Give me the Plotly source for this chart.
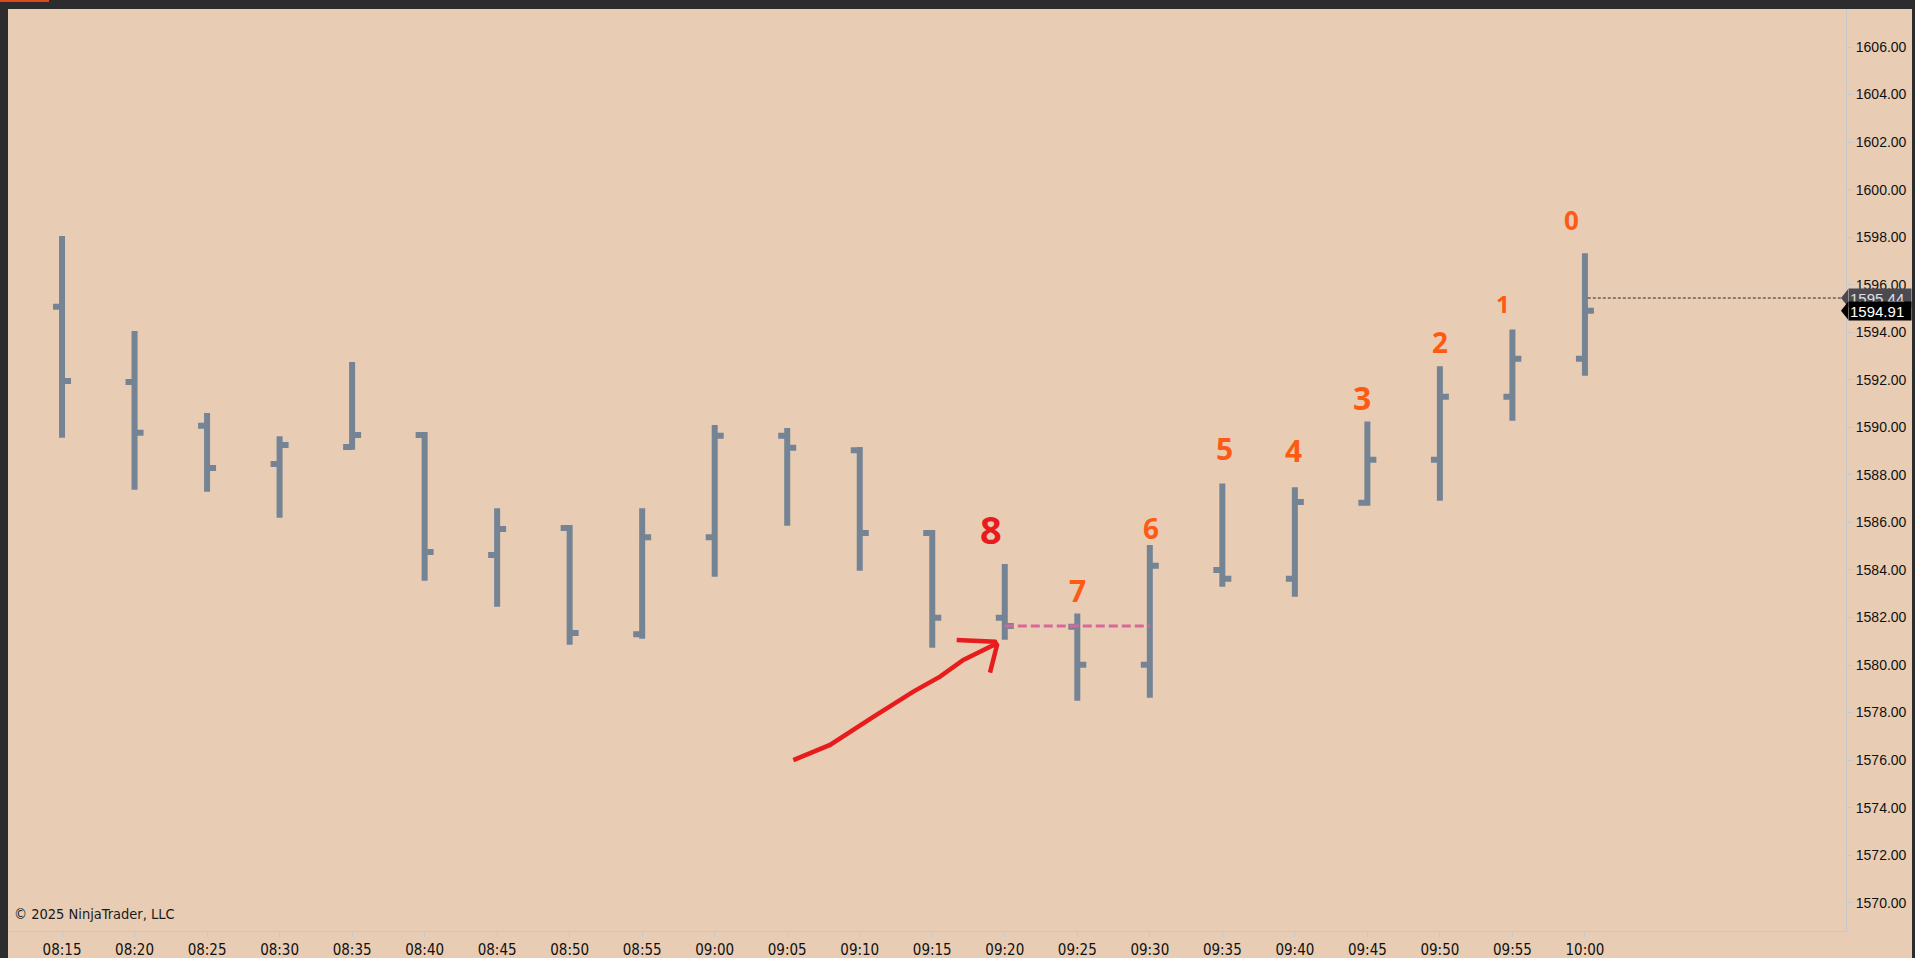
import plotly.graph_objects as go

# ---------------- data ----------------
times = ["08:15", "08:20", "08:25", "08:30", "08:35", "08:40", "08:45", "08:50",
         "08:55", "09:00", "09:05", "09:10", "09:15", "09:20", "09:25", "09:30",
         "09:35", "09:40", "09:45", "09:50", "09:55", "10:00"]
open_ = [1595.07, 1591.91, 1590.07, 1588.46, 1589.17, 1589.68, 1584.63, 1585.76,
         1581.30, 1585.38, 1589.65, 1589.04, 1585.55, 1581.99, 1581.61, 1580.01,
         1584.00, 1583.63, 1586.83, 1588.64, 1591.29, 1592.89]
high = [1598.05, 1594.05, 1590.60, 1589.63, 1592.75, 1589.80, 1586.60, 1585.89,
        1586.60, 1590.10, 1589.97, 1589.17, 1585.68, 1584.25, 1582.17, 1585.05,
        1587.64, 1587.48, 1590.25, 1592.57, 1594.12, 1597.32]
low = [1589.56, 1587.37, 1587.29, 1586.20, 1589.06, 1583.55, 1582.45, 1580.85,
       1581.11, 1583.71, 1585.86, 1583.97, 1580.73, 1581.06, 1578.50, 1578.62,
       1583.29, 1582.87, 1586.70, 1586.91, 1590.28, 1592.17]
close = [1591.95, 1589.77, 1588.29, 1589.26, 1589.68, 1584.75, 1585.72, 1581.35,
         1585.38, 1589.65, 1589.14, 1585.55, 1581.99, 1581.64, 1580.01, 1584.18,
         1583.63, 1586.86, 1588.64, 1591.29, 1592.89, 1594.91]

y_ticks = [1570, 1572, 1574, 1576, 1578, 1580, 1582, 1584, 1586, 1588, 1590,
           1592, 1594, 1596, 1598, 1600, 1602, 1604, 1606]

ask_price = 1595.44
last_price = close[-1]
ref_level = close[13]          # 09:20 close, pink dashed level

digit_labels = ["8", "7", "6", "5", "4", "3", "2", "1", "0"]
digit_bars = ["09:20", "09:25", "09:30", "09:35", "09:40", "09:45", "09:50", "09:55", "10:00"]

copyright_text = "\u00a9 2025 NinjaTrader, LLC"

# ---------------- style / layout ----------------
W, H = 1915, 958
ML, MR, MT, MB = 8, 69, 9, 27
PW, PH = W - ML - MR, H - MT - MB
BG = "#e8cdb4"
BAR = "#748494"
AXIS = "#c8c8cc"
ORANGE = "#ff5a14"
RED = "#e81c1c"
NARROW = "Liberation Sans Narrow, Arial Narrow, DejaVu Sans Condensed, sans-serif"
ARIAL = "Liberation Sans, Arial, sans-serif"

x_range = [-0.745, 24.6]
y_range = [1568.81, 1607.6]

fig = go.Figure()
fig.add_trace(go.Ohlc(
    x=times, open=open_, high=high, low=low, close=close,
    increasing=dict(line=dict(color=BAR, width=6)),
    decreasing=dict(line=dict(color=BAR, width=6)),
    tickwidth=0.124, hoverinfo="skip", showlegend=False,
))

shapes = []
annotations = []

# pink dashed level line from 09:20 bar to 09:30 bar
shapes.append(dict(type="line", xref="x", yref="y", x0=13.0, x1=15.0,
                   y0=ref_level, y1=ref_level,
                   line=dict(color="#d8689a", width=3, dash="9px,4px"), layer="above"))

# black dashed ask line from last bar to price axis
shapes.append(dict(type="line", xref="x", yref="y", x0=21.04, x1=24.53,
                   y0=ask_price, y1=ask_price,
                   line=dict(color="#2a2a2a", width=1, dash="3px,2px"), layer="above"))

# red hand-drawn arrow
arrow_path = ("M 10.084,1576.00 L 10.59,1576.64 L 11.187,1577.82 L 11.739,1578.88 "
              "L 12.107,1579.51 L 12.428,1580.21 L 12.889,1580.91 "
              "M 12.337,1581.05 L 12.865,1580.98 L 12.893,1580.84 L 12.796,1579.68")
shapes.append(dict(type="path", xref="x", yref="y", path=arrow_path,
                   line=dict(color=RED, width=4.5), layer="above"))

# hand-written digits above bars
digit_offsets = [(35, -14), (23, 0), (17, 1), (35, 2), (37, -1), (24, -5), (24, 0), (26, -9), (33, -13)]
digit_sizes = [38, 30, 28, 30, 30, 32, 28, 24, 26]
for lab, bar, (dy, dx), sz in zip(digit_labels, digit_bars, digit_offsets, digit_sizes):
    i = times.index(bar)
    annotations.append(dict(x=bar, y=high[i], xref="x", yref="y", text=f"<b>{lab}</b>",
                            showarrow=False, yshift=dy, xshift=dx,
                            xanchor="center", yanchor="middle",
                            font=dict(family="Noto Sans, sans-serif", size=sz,
                                      color=RED if lab == "8" else ORANGE)))

# price markers on the axis
def px_to_paper_x(px):
    return (px - ML) / PW

half = 0.37
for price, col, tcol in [(ask_price, "#4a4a52", "#e0e0e0"), (last_price, "#000000", "#ffffff")]:
    tip = px_to_paper_x(1841)
    body = px_to_paper_x(1848)
    shapes.append(dict(type="path", xref="paper", yref="y",
                       path=f"M {tip},{price} L {body},{price + half} L {body},{price - half} Z",
                       fillcolor=col, line=dict(width=0), layer="above"))
    annotations.append(dict(x=body, y=price, xref="paper", yref="y", text=f"{price:.2f}",
                            showarrow=False, xanchor="left", yanchor="middle",
                            bgcolor=col, width=60, height=16, align="left", borderpad=1,
                            font=dict(family=ARIAL, size=15, color=tcol)))

# copyright
annotations.append(dict(x=px_to_paper_x(12), y=(H - MB - 914) / PH, xref="paper", yref="paper",
                        text=copyright_text, showarrow=False, xanchor="left", yanchor="middle",
                        font=dict(family=NARROW, size=14.5, color="#1a1a1a")))

# dark window frame (top, left, right) and orange tab
DARK = "#2c2c2f"
shapes += [
    dict(type="rect", xref="paper", yref="paper", x0=-ML / PW, x1=(W - ML) / PW,
         y0=1, y1=1 + MT / PH, fillcolor=DARK, line=dict(width=0), layer="above"),
    dict(type="rect", xref="paper", yref="paper", x0=-ML / PW, x1=0,
         y0=-MB / PH, y1=1 + MT / PH, fillcolor=DARK, line=dict(width=0), layer="above"),
    dict(type="rect", xref="paper", yref="paper", x0=(1912 - ML) / PW, x1=(W - ML) / PW,
         y0=-MB / PH, y1=1 + MT / PH, fillcolor=DARK, line=dict(width=0), layer="above"),
    dict(type="rect", xref="paper", yref="paper", x0=-ML / PW, x1=(49 - ML) / PW,
         y0=1 + (MT - 2) / PH, y1=1 + MT / PH, fillcolor="#e0481c", line=dict(width=0), layer="above"),
]

fig.update_layout(
    width=W, height=H, margin=dict(l=ML, r=MR, t=MT, b=MB, autoexpand=False),
    paper_bgcolor=BG, plot_bgcolor=BG, showlegend=False,
    shapes=shapes, annotations=annotations,
    xaxis=dict(type="category", range=x_range, rangeslider=dict(visible=False),
               automargin=False,
               showgrid=False, zeroline=False, showline=True, linecolor=AXIS, linewidth=1,
               ticks="outside", ticklen=5, tickcolor=AXIS,
               tickfont=dict(family=NARROW, size=15, color="#111111")),
    yaxis=dict(side="right", range=y_range, tickvals=y_ticks, tickformat=".2f",
               automargin=False,
               showgrid=False, zeroline=False, showline=True, linecolor=AXIS, linewidth=1,
               ticks="outside", ticklen=6, tickcolor=AXIS,
               tickfont=dict(family=ARIAL, size=14, color="#111111")),
)

fig.write_html("out.html", config={"displayModeBar": False},
               post_script="document.body.style.margin='0';document.body.style.overflow='hidden';")
